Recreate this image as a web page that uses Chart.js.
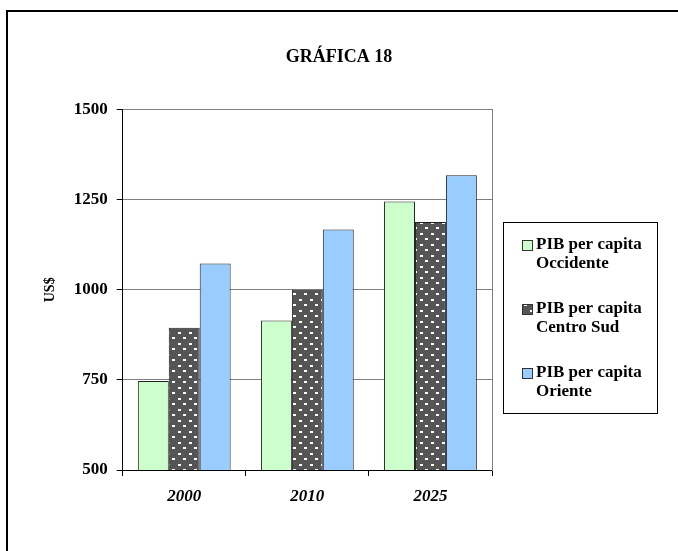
<!DOCTYPE html>
<html>
<head>
<meta charset="utf-8">
<title>GRÁFICA 18</title>
<script src="https://cdn.jsdelivr.net/npm/chart.js@4.4.1/dist/chart.umd.min.js"></script>
<style>
    html, body { margin: 0; padding: 0; background: #fff; }
    canvas { display: block; }
</style>
</head>
<body>
<canvas id="grafica18" width="678" height="551"></canvas>
<script>
// Datos
const years = ['2000', '2010', '2025'];
const occidente = [747, 915, 1245];
const centroSud = [895, 1000, 1188];
const oriente = [1073, 1167, 1318];
const seriesLines = [
    ['PIB per capita', 'Occidente'],
    ['PIB per capita', 'Centro Sud'],
    ['PIB per capita', 'Oriente']
];
const yTicks = [500, 750, 1000, 1250, 1500];

const serif = "'Liberation Serif', 'Times New Roman', serif";

// trama de puntos blancos sobre gris oscuro
function makeDotPattern() {
    const c = document.createElement('canvas');
    c.width = 11;
    c.height = 11;
    const g = c.getContext('2d');
    g.fillStyle = '#555555';
    g.fillRect(0, 0, 11, 11);
    g.fillStyle = '#ffffff';
    g.fillRect(2, 2, 3, 2);
    g.fillRect(7, 7, 3, 2);
    return g.createPattern(c, 'repeat');
}

const colors = ['#CCFFCC', makeDotPattern(), '#99CCFF'];

// marco exterior + leyenda con recuadro
const framePlugin = {
    id: 'frameAndLegend',
    beforeDraw(chart) {
        const ctx = chart.ctx;
        ctx.save();
        ctx.strokeStyle = '#000';
        ctx.lineWidth = 2;
        ctx.beginPath();
        ctx.moveTo(7, 700);
        ctx.lineTo(7, 11);
        ctx.lineTo(800, 11);
        ctx.stroke();
        ctx.restore();
    },
    afterDraw(chart) {
        const ctx = chart.ctx;
        ctx.save();
        ctx.strokeStyle = '#000';
        ctx.lineWidth = 1;
        ctx.strokeRect(503.5, 222.5, 154, 191);
        ctx.font = 'bold 17px ' + serif;
        ctx.textBaseline = 'middle';
        ctx.textAlign = 'left';
        chart.data.datasets.forEach((ds, i) => {
            const y = 245 + i * 64;
            ctx.fillStyle = ds.backgroundColor;
            ctx.fillRect(522, y - 5, 11, 11);
            ctx.strokeStyle = '#333';
            ctx.strokeRect(522.5, y - 4.5, 10, 10);
            ctx.fillStyle = '#000';
            seriesLines[i].forEach((line, j) => {
                ctx.fillText(line, 536, y + j * 18.5);
            });
        });
        ctx.restore();
    }
};

new Chart(document.getElementById('grafica18').getContext('2d'), {
    type: 'bar',
    data: {
        labels: years,
        datasets: [occidente, centroSud, oriente].map((vals, i) => ({
            label: seriesLines[i].join(' '),
            data: vals,
            backgroundColor: colors[i],
            borderColor: '#222',
            borderWidth: 1,
            categoryPercentage: 0.754,
            barPercentage: 1.0
        }))
    },
    options: {
        responsive: false,
        animation: false,
        layout: { padding: { top: 0, left: 6, right: 6, bottom: 0 } },
        plugins: {
            legend: { display: false },
            tooltip: { enabled: false },
            title: {
                display: true,
                text: 'GRÁFICA 18',
                color: '#000',
                font: { family: serif, size: 18, weight: 'bold' },
                padding: { top: 47, bottom: 41 }
            }
        },
        scales: {
            x: {
                grid: {
                    display: true,
                    drawOnChartArea: false,
                    drawTicks: true,
                    tickLength: 6,
                    tickColor: '#000',
                    offset: true
                },
                border: { color: '#000', width: 1 },
                ticks: {
                    color: '#000',
                    maxRotation: 0,
                    padding: 10,
                    font: { family: serif, size: 17, weight: 'bold', style: 'italic' }
                },
                afterFit: s => { s.height = 81; }
            },
            y: {
                min: yTicks[0],
                max: yTicks[yTicks.length - 1],
                ticks: {
                    stepSize: yTicks[1] - yTicks[0],
                    color: '#000',
                    padding: 9,
                    font: { family: serif, size: 17, weight: 'bold' },
                    callback: v => String(v)
                },
                grid: { color: '#808080', lineWidth: 1, tickLength: 6, tickColor: '#000' },
                border: { color: '#000', width: 1 },
                title: {
                    display: true,
                    text: 'US$',
                    color: '#000',
                    font: { family: serif, size: 14, weight: 'bold' },
                    padding: { top: 36, bottom: 0 }
                },
                afterFit: s => { s.width = 116.7; }
            },
            yRight: {
                position: 'right',
                display: true,
                grid: { display: false, drawTicks: false },
                ticks: { display: false },
                border: { display: true, color: '#808080', width: 1 },
                afterFit: s => { s.width = 180; }
            }
        }
    },
    plugins: [framePlugin]
});
</script>
</body>
</html>
